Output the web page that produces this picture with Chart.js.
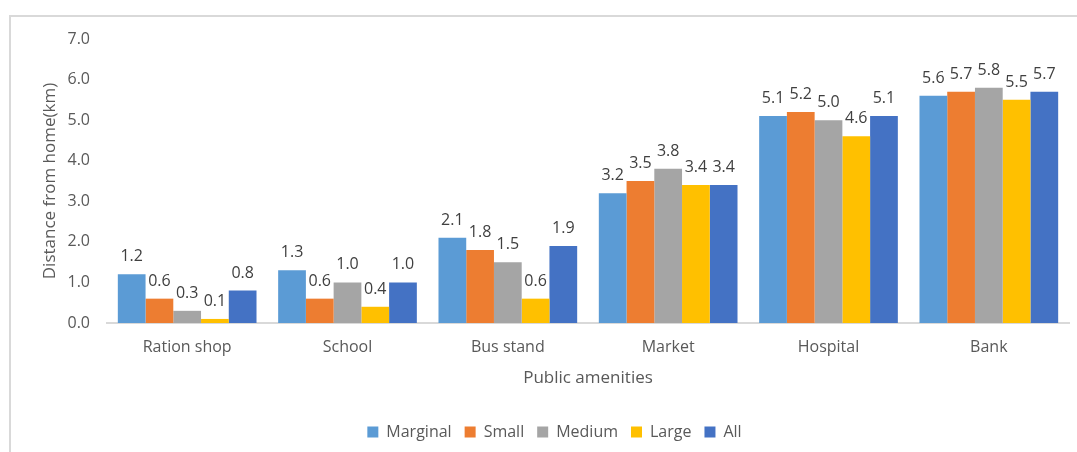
<!DOCTYPE html>
<html>
<head>
<meta charset="utf-8">
<script src="https://cdn.jsdelivr.net/npm/chart.js@4/dist/chart.umd.min.js"></script>
<style>
  body { margin: 0; background: #fff; overflow: hidden; }
  #wrap { position: relative; width: 1077px; height: 452px; }
  #frame { position: absolute; left: 9px; top: 15px; width: 1200px; height: 600px; border: 2px solid #d9d9d9; }
  #mychart { position: absolute; left: 0; top: 0; }
</style>
</head>
<body>
<div id="wrap">
  <div id="frame"></div>
  <canvas id="mychart" width="1077" height="452"></canvas>
</div>
<script>
// data
const amenities = ['Ration shop', 'School', 'Bus stand', 'Market', 'Hospital', 'Bank'];
const marginal = [1.2, 1.3, 2.1, 3.2, 5.1, 5.6];
const small    = [0.6, 0.6, 1.8, 3.5, 5.2, 5.7];
const medium   = [0.3, 1.0, 1.5, 3.8, 5.0, 5.8];
const large    = [0.1, 0.4, 0.6, 3.4, 4.6, 5.5];
const all      = [0.8, 1.0, 1.9, 3.4, 5.1, 5.7];
const yTicks   = [0, 1, 2, 3, 4, 5, 6, 7];

const fontName = "'Open Sans', sans-serif";

// skriver verdien over hver søyle
const barLabels = {
    id: 'barLabels',
    afterDatasetsDraw(chart) {
        const ctx = chart.ctx;
        ctx.save();
        ctx.font = '16px ' + fontName;
        ctx.fillStyle = '#404040';
        ctx.textAlign = 'center';
        ctx.textBaseline = 'alphabetic';
        chart.data.datasets.forEach((ds, i) => {
            chart.getDatasetMeta(i).data.forEach((bar, j) => {
                ctx.fillText(ds.data[j].toFixed(1), bar.x, bar.y - 13);
            });
        });
        ctx.restore();
    }
};

const ctx = document.getElementById('mychart');
const mychart = new Chart(ctx, {
    type: 'bar',
    data: {
        labels: amenities,
        datasets: [
            { label: 'Marginal', data: marginal, backgroundColor: '#5b9bd5' },
            { label: 'Small',    data: small,    backgroundColor: '#ed7d31' },
            { label: 'Medium',   data: medium,   backgroundColor: '#a5a5a5' },
            { label: 'Large',    data: large,    backgroundColor: '#ffc000' },
            { label: 'All',      data: all,      backgroundColor: '#4472c4' }
        ]
    },
    options: {
        responsive: false,
        animation: false,
        layout: { padding: { left: 40, right: 8, top: 39, bottom: 2 } },
        datasets: { bar: { barPercentage: 1, categoryPercentage: 0.865, borderWidth: 0 } },
        scales: {
            x: {
                grid: { display: false, drawTicks: false },
                border: { display: true, color: '#d9d9d9', width: 2 },
                ticks: { color: '#595959', font: { family: fontName, size: 16 }, padding: 15, maxRotation: 0 },
                title: { display: true, text: 'Public amenities', color: '#595959',
                         font: { family: fontName, size: 17 }, padding: { top: 0, bottom: 23 } },
                afterFit: s => { s.height = 88; }
            },
            y: {
                min: 0,
                max: 7,
                afterBuildTicks: s => { s.ticks = yTicks.map(v => ({ value: v })); },
                grid: { display: false, drawTicks: false },
                border: { display: false },
                ticks: { color: '#595959', font: { family: fontName, size: 16 }, padding: 17,
                         callback: v => v.toFixed(1) },
                title: { display: true, text: 'Distance from home(km)', color: '#595959',
                         font: { family: fontName, size: 17 }, padding: { top: 0, bottom: 0 } },
                afterFit: s => { s.width = 67; }
            }
        },
        plugins: {
            tooltip: { enabled: false },
            legend: {
                position: 'bottom',
                labels: {
                    color: '#595959',
                    font: { family: fontName, size: 16 },
                    boxWidth: 11,
                    boxHeight: 11,
                    padding: 13
                }
            }
        }
    },
    plugins: [barLabels]
});
</script>
</body>
</html>
